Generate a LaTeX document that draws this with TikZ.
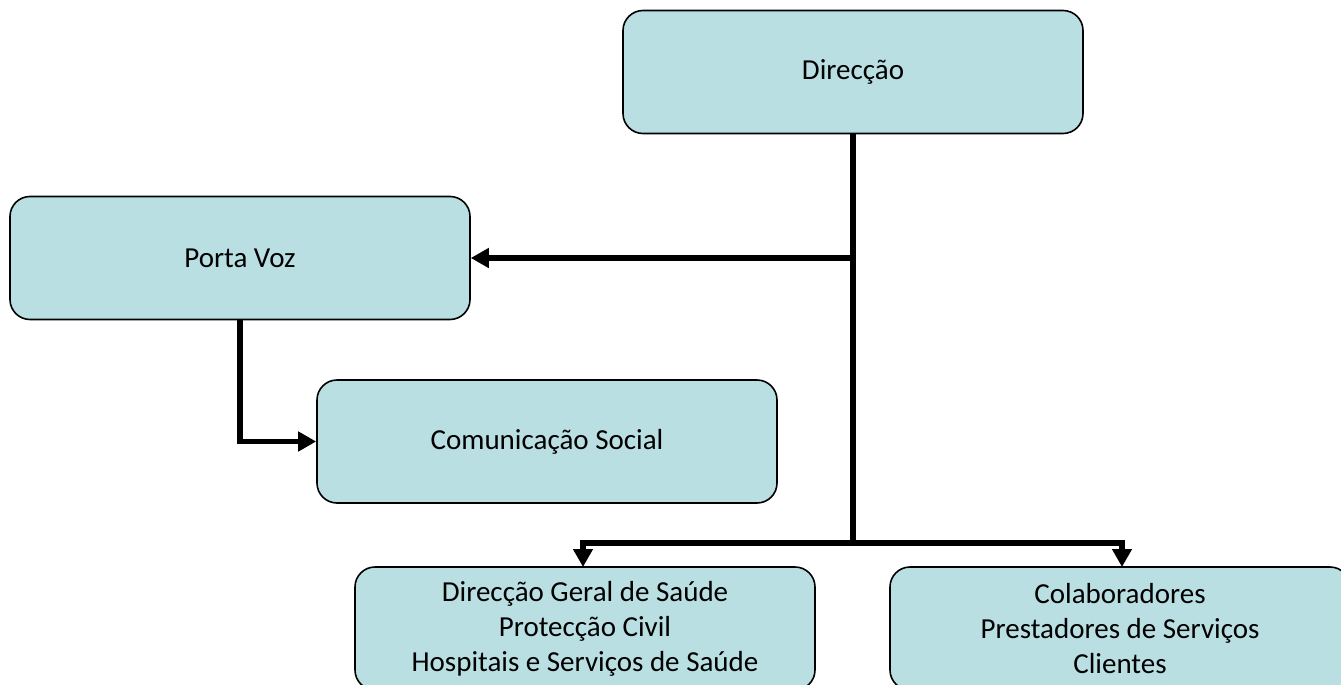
\documentclass[tikz,border=0pt]{standalone}
\usepackage{fontspec}
\setmainfont{Carlito}
\usetikzlibrary{arrows.meta}
\definecolor{boxfill}{RGB}{185,223,227}
\begin{document}
\begin{tikzpicture}[x=1pt,y=-1pt,
  orgbox/.style={draw=black, line width=1.6pt, fill=boxfill, rounded corners=20pt,
    minimum width=460pt, minimum height=123pt, inner sep=0pt, align=center,
    font=\fontsize{29pt}{35pt}\selectfont},
  link/.style={line width=5.5pt, line join=miter},
  linkarrow/.style={link, -{Triangle[length=18pt,width=19pt]}}]
\clip (0,0) rectangle (1341,685);
\fill[white] (0,0) rectangle (1341,685);
\node[orgbox] (d) at (853,72) {Direcção};
\node[orgbox] (pv) at (240,258) {Porta Voz};
\node[orgbox] (cs) at (547,441.5) {Comunicação Social};
\node[orgbox] (bl) at (585,628.5) {Direcção Geral de Saúde\\Protecção Civil\\Hospitais e Serviços de Saúde};
\node[orgbox] (br) at (1120,628.5) {Colaboradores\\Prestadores de Serviços\\Clientes};
\coordinate (j1) at (853,258);
\coordinate (j2) at (853,543);
\coordinate (bla) at (583,567);
\coordinate (bra) at (1122,567);
\draw[link] (d.south) -- (j2);
\draw[linkarrow] (j1) -- (pv.east);
\draw[linkarrow] (pv.south) |- (cs.west);
\draw[linkarrow] (j2) -| (bla);
\draw[linkarrow] (j2) -| (bra);
\end{tikzpicture}
\end{document}
